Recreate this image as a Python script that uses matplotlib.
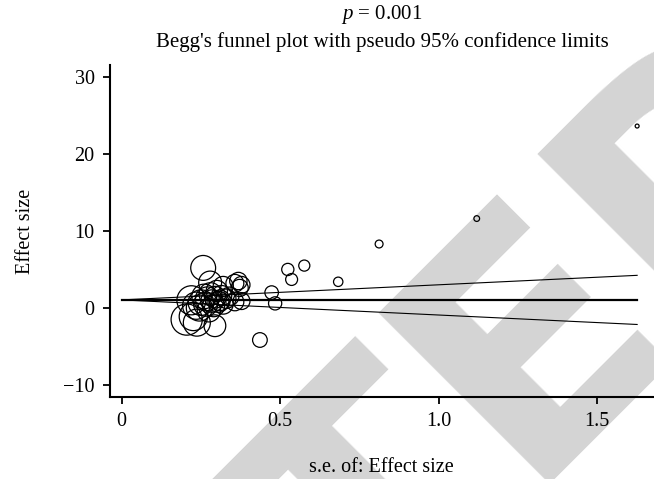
import matplotlib
matplotlib.use("Agg")
import matplotlib.pyplot as plt
import numpy as np

# ---- data ----
se = [0.205, 0.237, 0.294, 0.226, 0.436, 0.257, 0.279, 0.320, 0.357, 0.368,
      0.372, 0.378, 0.357, 0.378, 0.473, 0.484, 0.524, 0.536, 0.576, 0.683,
      0.812, 1.120, 1.626,
      0.220, 0.235, 0.245, 0.250, 0.260, 0.265, 0.270, 0.275, 0.280, 0.285,
      0.290, 0.295, 0.300, 0.305, 0.310, 0.315, 0.320, 0.330, 0.340]
effect = [-1.5, -1.9, -2.3, -1.1, -4.15, 5.2, 3.3, 2.8, 3.2, 3.5,
          2.6, 3.0, 0.8, 0.9, 2.0, 0.6, 5.0, 3.7, 5.5, 3.4,
          8.3, 11.6, 23.6,
          1.0, 0.3, 0.0, 0.7, 1.5, 0.5, 1.2, -0.3, 1.8, 0.9,
          0.3, 1.4, 2.2, 0.8, 1.0, 1.6, 0.5, 1.2, 1.5]
theta = 1.05          # pooled estimate
z = 1.96              # pseudo 95% limits
xticks = [0, 0.5, 1.0, 1.5]
xticklabels = ["0", "0.5", "1.0", "1.5"]
yticks = [-10, 0, 10, 20, 30]
yticklabels = ["\u221210", "0", "10", "20", "30"]
p_text = "$p$ = 0.001"
title_text = "Begg's funnel plot with pseudo 95% confidence limits"
xlabel = "s.e. of: Effect size"
ylabel = "Effect size"

plt.rcParams["font.family"] = ["Liberation Serif", "DejaVu Serif"]
plt.rcParams["mathtext.fontset"] = "custom"
plt.rcParams["mathtext.rm"] = "Liberation Serif"
plt.rcParams["mathtext.it"] = "Liberation Serif:italic"

W, H = 654, 479
fig = plt.figure(figsize=(W / 100, H / 100), dpi=100)

# watermark
wm_kw = dict(fontsize=238, fontweight="bold", color="#d4d4d4",
             family="DejaVu Sans", rotation=45, rotation_mode="anchor",
             va="baseline", zorder=-5)
ax_px = (520, 484)
fig.text(ax_px[0] / W, 1 - ax_px[1] / H, "RETRACT", ha="right", **wm_kw)
fig.text(ax_px[0] / W, 1 - ax_px[1] / H, "ED", ha="left", **wm_kw)

ax = fig.add_axes([110 / W, (H - 397) / H, (W - 110) / W, (397 - 65) / H])
ax.set_facecolor("none")

se_arr = np.array(se)
eff_arr = np.array(effect)
sizes = 21.2 / se_arr ** 2
order = np.argsort(-sizes)
ax.scatter(se_arr[order], eff_arr[order], s=sizes[order], facecolors="none",
           edgecolors="black", linewidths=0.9, zorder=3)

smax = se_arr.max()
xs = np.array([0, smax])
ax.plot(xs, [theta, theta], color="black", lw=1.6, zorder=2)
ax.plot(xs, theta + z * xs, color="black", lw=0.8, zorder=2)
ax.plot(xs, theta - z * xs, color="black", lw=0.8, zorder=2)

ax.set_xlim((110 - 121.7) / 317, (W - 121.7) / 317)
ax.set_ylim((308 - 397) / 7.71, (308 - 65) / 7.71)
ax.set_xticks(xticks)
ax.set_xticklabels(xticklabels)
ax.set_yticks(yticks)
ax.set_yticklabels(yticklabels)
for s in ["top", "right"]:
    ax.spines[s].set_visible(False)
for s in ["left", "bottom"]:
    ax.spines[s].set_linewidth(1.5)
ax.tick_params(axis="both", direction="out", length=5, width=1.3,
               labelsize=14.5, pad=6)

fig.text(382 / W, 1 - 14 / H, p_text, ha="center", va="center", fontsize=15)
fig.text(382 / W, 1 - 42 / H, title_text, ha="center", va="center", fontsize=15)
fig.text(381 / W, 1 - 467 / H, xlabel, ha="center", va="center", fontsize=14.5)
fig.text(25 / W, 1 - 231 / H, ylabel, ha="center", va="center", rotation=90,
         fontsize=14.5)

fig.savefig("out.png", dpi=100)
